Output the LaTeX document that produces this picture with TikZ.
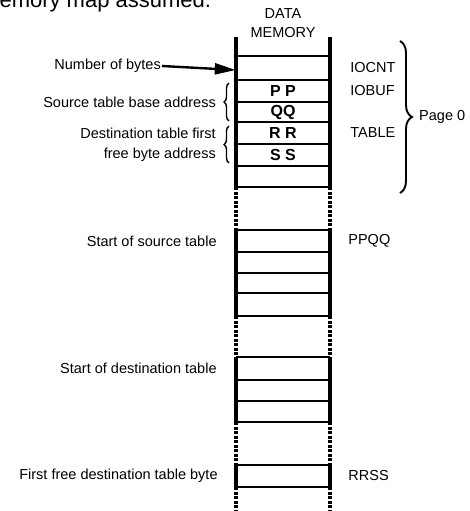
\documentclass[tikz,border=0pt]{standalone}
\usepackage{fontspec}
\setmainfont{Liberation Sans}
\usetikzlibrary{arrows.meta,positioning,decorations.pathreplacing}

\begin{document}
\begin{tikzpicture}[
    x=1pt, y=-1pt,
    every node/.style={font=\fontsize{14.5}{17}\selectfont, inner sep=0pt},
    wall/.style={line width=3.4pt},
    gap/.style={line width=3.4pt, dash pattern=on 3pt off 1.5pt},
    rung/.style={line width=2.8pt},
    cell/.style={minimum width=94pt, minimum height=21pt, font=\fontsize{16}{18}\selectfont\bfseries},
    brc/.style={decorate, decoration={brace, amplitude=5pt}, line width=1.4pt},
    ptr/.style={line width=2.4pt, -{Triangle[length=21pt,width=11pt]}}
  ]
  \useasboundingbox (0,0) rectangle (470,511);

  \node[anchor=base west, font=\fontsize{22}{25}\selectfont] (cap) at (-19,8) {memory map assumed.};
  \node (hd1) at (283,14) {DATA};
  \node (hd2) at (283,33) {MEMORY};

  % walls: solid where the bytes are shown, broken between
  \foreach \xx in {236,330} {
    \draw[wall] (\xx,37) -- (\xx,187);
    \draw[gap]  (\xx,187) -- (\xx,230);
    \draw[wall] (\xx,230) -- (\xx,316);
    \draw[gap]  (\xx,316) -- (\xx,357);
    \draw[wall] (\xx,357) -- (\xx,422);
    \draw[gap]  (\xx,422) -- (\xx,465);
    \draw[wall] (\xx,465) -- (\xx,487);
    \draw[gap]  (\xx,487) -- (\xx,511);
  }
  \foreach \yy in {56,80,102,122,144,166,187,230,252,273,293,316,357,380,401,422,465,487}
    \draw[rung] (236,\yy) -- (330,\yy);

  % byte cells
  \node[cell] (cnt) at (283,68) {};
  \node[cell] (pp)  at (283,91) {P P};
  \node[cell] (qq)  at (283,112) {QQ};
  \node[cell] (rr)  at (283,133) {R R};
  \node[cell] (ss)  at (283,155) {S S};
  \node[cell] (src) at (283,241) {};
  \node[cell] (dst) at (283,368.5) {};
  \node[cell] (fre) at (283,476) {};

  % addresses
  \node[right=20pt of cnt] (iocnt) {IOCNT};
  \node[right=20pt of pp]  (iobuf) {IOBUF};
  \node[right=20pt of rr]  (tbl) {TABLE};
  \node[right=18pt of src] (ppqq) {PPQQ};
  \node[right=18pt of fre] (rrss) {RRSS};

  % descriptions
  \node[anchor=east] (nb) at (161,66) {Number of bytes};
  \node[anchor=east] (sba) at (216,102) {Source table base address};
  \node[anchor=east] (dfa) at (216,133) {Destination table first};
  \node[anchor=east] (dfb) at (216,155) {free byte address};
  \node[left=19pt of src] (sst) {Start of source table};
  \node[left=19pt of dst] (sdt) {Start of destination table};
  \node[left=18pt of fre] (ffb) {First free destination table byte};

  \draw[ptr] ([xshift=1pt]nb.east) -- ([yshift=-2pt]cnt.west);
  \draw[brc] (229,121) -- (229,83);
  \draw[brc] (229,163) -- (229,126);
  \draw[brc, decoration={amplitude=12pt}, line width=1.9pt] (400,41) -- (400,193);
  \node[anchor=west] (pg) at (419,117) {Page 0};
\end{tikzpicture}
\end{document}
